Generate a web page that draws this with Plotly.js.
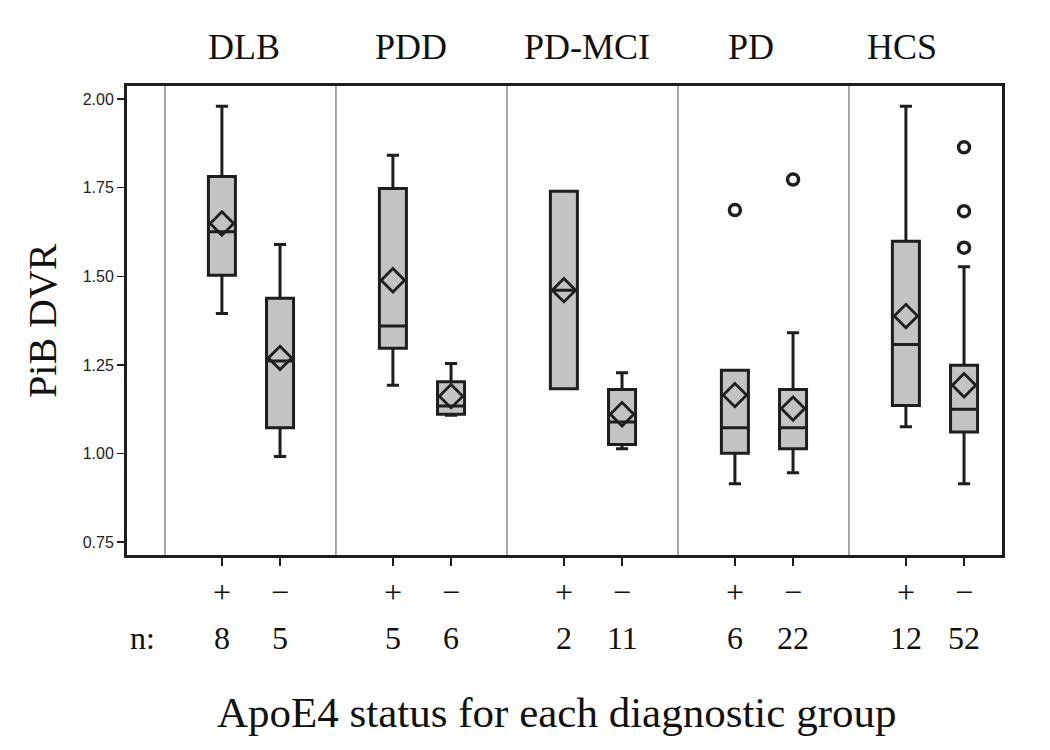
<!DOCTYPE html>
<html>
<head>
<meta charset="utf-8">
<script src="https://cdn.plot.ly/plotly-3.0.1.min.js"></script>
<style>body{margin:0;background:#fff;}#chart{width:1050px;height:750px;}</style>
</head>
<body>
<div id="chart"></div>
<script>
// ---- data ----
const groups = ['DLB', 'PDD', 'PD-MCI', 'PD', 'HCS'];
const statusLabels = ['+', '\u2212'];
const nCounts = [8, 5, 5, 6, 2, 11, 6, 22, 12, 52];
const q1 = [1.503, 1.073, 1.297, 1.111, 1.183, 1.026, 1.001, 1.014, 1.136, 1.061];
const medians = [1.626, 1.261, 1.360, 1.134, 1.461, 1.089, 1.073, 1.073, 1.308, 1.125];
const q3 = [1.782, 1.438, 1.748, 1.203, 1.740, 1.181, 1.235, 1.181, 1.599, 1.249];
const lowerWhisker = [1.395, 0.992, 1.193, 1.108, 1.183, 1.014, 0.915, 0.946, 1.076, 0.915];
const upperWhisker = [1.980, 1.590, 1.842, 1.254, 1.740, 1.228, 1.235, 1.341, 1.980, 1.527];
const means = [1.649, 1.270, 1.489, 1.162, 1.461, 1.111, 1.165, 1.127, 1.388, 1.193];
const outlierBox = [6, 7, 9, 9, 9];
const outlierValues = [1.687, 1.773, 1.581, 1.684, 1.864];

// ---- layout helpers (positions) ----
const statusOffset = [0.333, 0.673];
const boxX = [];
groups.forEach((g, gi) => statusOffset.forEach(o => boxX.push(gi + o)));
const titleShift = [-0.04, -0.06, -0.03, -0.07, -0.19];

const ink = '#1e1e1e';
const serif = 'Liberation Serif, Times New Roman, serif';

const traces = [
  {
    type: 'box',
    x: boxX,
    q1: q1, median: medians, q3: q3,
    lowerfence: lowerWhisker, upperfence: upperWhisker,
    width: 0.158,
    whiskerwidth: 0.45,
    fillcolor: '#c3c3c3',
    line: {color: ink, width: 3},
    boxpoints: false,
    hoverinfo: 'skip',
    showlegend: false
  },
  {
    type: 'scatter', mode: 'markers',
    x: boxX, y: means,
    marker: {symbol: 'diamond-open', size: 18, color: ink, line: {width: 2.8, color: ink}},
    hoverinfo: 'skip', showlegend: false
  },
  {
    type: 'scatter', mode: 'markers',
    x: outlierBox.map(i => boxX[i]), y: outlierValues,
    marker: {symbol: 'circle-open', size: 11, color: ink, line: {width: 3.5, color: ink}},
    hoverinfo: 'skip', showlegend: false
  }
];

const annotations = [];
groups.forEach((g, gi) => {
  annotations.push({
    text: g, x: gi + 0.5 + titleShift[gi], xref: 'x', y: 1.083, yref: 'paper',
    xanchor: 'center', yanchor: 'middle', showarrow: false,
    font: {family: serif, size: 36, color: '#111'}
  });
});
boxX.forEach((bx, i) => {
  annotations.push({
    text: statusLabels[i % 2], x: bx, xref: 'x', y: -0.079, yref: 'paper',
    xanchor: 'center', yanchor: 'middle', showarrow: false,
    font: {family: serif, size: 32, color: '#111'}
  });
  annotations.push({
    text: String(nCounts[i]), x: bx, xref: 'x', y: -0.177, yref: 'paper',
    xanchor: 'center', yanchor: 'middle', showarrow: false,
    font: {family: serif, size: 32, color: '#111'}
  });
});
annotations.push({
  text: 'n:', x: 0.018, xref: 'paper', y: -0.177, yref: 'paper',
  xanchor: 'center', yanchor: 'middle', showarrow: false,
  font: {family: serif, size: 32, color: '#111'}
});
annotations.push({
  text: 'ApoE4 status for each diagnostic group', x: 0.491, xref: 'paper', y: -0.335, yref: 'paper',
  xanchor: 'center', yanchor: 'middle', showarrow: false,
  font: {family: serif, size: 43, color: '#111'}
});
annotations.push({
  text: 'PiB DVR', x: -0.096, xref: 'paper', y: 0.499, yref: 'paper', textangle: -90,
  xanchor: 'center', yanchor: 'middle', showarrow: false,
  font: {family: serif, size: 40, color: '#111'}
});

const shapes = groups.map((g, gi) => ({
  type: 'line', xref: 'x', yref: 'paper', x0: gi, x1: gi, y0: 0, y1: 1,
  line: {color: '#8a8a8a', width: 1.5}, layer: 'below'
}));

const layout = {
  width: 1050, height: 750,
  margin: {l: 127, r: 48, t: 86, b: 195},
  paper_bgcolor: '#ffffff', plot_bgcolor: '#ffffff',
  showlegend: false,
  xaxis: {
    range: [-0.222, 4.895],
    tickvals: boxX, ticktext: boxX.map(() => ''),
    ticks: 'outside', ticklen: 8, tickwidth: 2, tickcolor: ink,
    showgrid: false, zeroline: false,
    showline: true, mirror: true, linewidth: 3, linecolor: ink,
    fixedrange: true
  },
  yaxis: {
    range: [0.714, 2.037],
    tickvals: [0.75, 1.0, 1.25, 1.5, 1.75, 2.0],
    tickformat: '.2f',
    ticks: 'outside', ticklen: 7, tickwidth: 1.5, tickcolor: ink,
    tickfont: {family: 'Liberation Sans, Arial, sans-serif', size: 16, color: '#222'},
    showgrid: false, zeroline: false,
    showline: true, mirror: true, linewidth: 3, linecolor: ink,
    fixedrange: true
  },
  annotations: annotations,
  shapes: shapes
};

Plotly.newPlot('chart', traces, layout, {staticPlot: true, displayModeBar: false});
</script>
</body>
</html>
